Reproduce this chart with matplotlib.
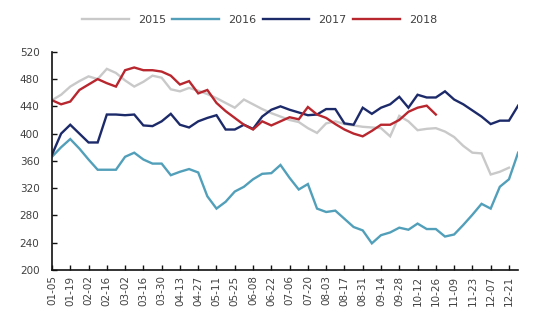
import matplotlib
matplotlib.use("Agg")
import matplotlib.pyplot as plt

# Weekly series, one value per week starting 01-05
s2015 = [449, 457, 469, 477, 484, 480, 495, 489, 478, 469, 476, 485, 482, 465, 462,
         467, 463, 458, 452, 445, 438, 450, 443, 436, 430, 425, 420, 417, 408, 401,
         415, 418, 414, 412, 410, 409, 408, 396, 426, 418, 405, 407, 408, 403, 395,
         382, 372, 371, 340, 344, 350]
s2016 = [366, 380, 392, 378, 362, 347, 347, 347, 366, 372, 362, 356, 356, 339, 344,
         348, 343, 308, 290, 300, 315, 322, 333, 341, 342, 354, 335, 318, 326, 290,
         285, 287, 275, 263, 258, 239, 251, 255, 262, 259, 268, 260, 260, 249, 252,
         266, 281, 297, 290, 322, 333, 372]
s2017 = [369, 400, 413, 400, 387, 387, 428, 428, 427, 428, 412, 411, 418, 429, 413,
         409, 418, 423, 427, 406, 406, 413, 407, 425, 435, 440, 435, 431, 427, 428,
         436, 436, 415, 413, 438, 429, 438, 443, 454, 438, 457, 453, 453, 462, 450,
         443, 434, 425, 414, 419, 419, 441]
s2018 = [449, 443, 447, 464, 472, 480, 474, 469, 493, 497, 493, 493, 491, 485, 472,
         477, 459, 464, 445, 433, 423, 413, 406, 418, 412, 418, 424, 421, 439, 428,
         423, 414, 406, 400, 396, 404, 413, 413, 420, 432, 438, 441, 428]

tick_labels = ["01-05", "01-19", "02-02", "02-16", "03-02", "03-16", "03-30", "04-13",
               "04-27", "05-11", "05-25", "06-08", "06-22", "07-06", "07-20", "08-03",
               "08-17", "08-31", "09-14", "09-28", "10-12", "10-26", "11-09", "11-23",
               "12-07", "12-21"]
y_ticks = [200, 240, 280, 320, 360, 400, 440, 480, 520]

series = [("2015", s2015, "#c9c9c9"),
          ("2016", s2016, "#529fba"),
          ("2017", s2017, "#1c2a6a"),
          ("2018", s2018, "#b8262e")]

fig = plt.figure(figsize=(5.5, 3.3), dpi=100)
ax = fig.add_axes([0.0945, 0.182, 0.8475, 0.661])

for name, vals, color in series:
    ax.plot(range(len(vals)), vals, color=color, lw=1.7, label=name,
            solid_joinstyle="miter")

ax.set_xlim(0, 51)
ax.set_ylim(200, 520)
ax.set_yticks(y_ticks)
ax.set_xticks(range(0, 2 * len(tick_labels), 2))
ax.set_xticklabels(tick_labels, rotation=90)

for side in ("top", "right"):
    ax.spines[side].set_visible(False)
for side in ("left", "bottom"):
    ax.spines[side].set_linewidth(1.2)
    ax.spines[side].set_color("#111111")

ax.tick_params(axis="both", direction="in", length=3.5, width=1.0,
               colors="#111111", labelcolor="#404040", labelsize=7.5)
ax.tick_params(axis="y", pad=9)
ax.tick_params(axis="x", pad=4)

fig.legend(loc="center", bbox_to_anchor=(0.472, 0.94), ncol=4, frameon=False,
           fontsize=8, handlelength=4.2, columnspacing=0.6, handletextpad=0.8,
           labelcolor="#404040")

fig.savefig("out.png", dpi=100, facecolor="white")
